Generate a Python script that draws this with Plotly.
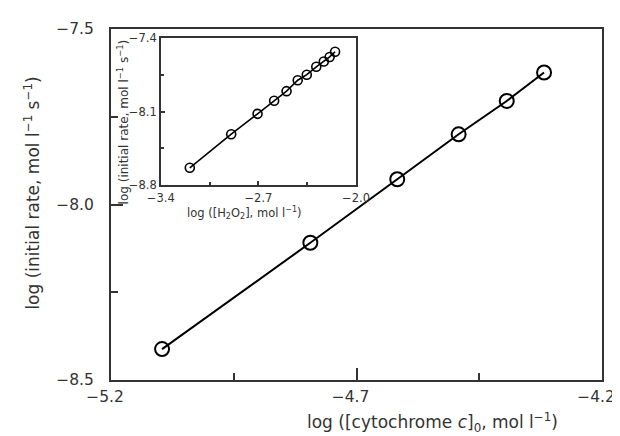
import plotly.graph_objects as go

# Main plot data
cyt_log = [-5.096, -4.794, -4.617, -4.492, -4.394, -4.318]
rate_main = [-8.412, -8.109, -7.928, -7.800, -7.705, -7.624]

# Inset data
h2o2_log = [-3.192, -2.895, -2.706, -2.587, -2.498, -2.418, -2.353, -2.285, -2.231, -2.189, -2.150]
rate_inset = [-8.635, -8.315, -8.121, -7.996, -7.905, -7.801, -7.748, -7.673, -7.623, -7.579, -7.529]

main_xticks = [-5.2, -4.7, -4.2]
main_yticks = [-7.5, -8.0, -8.5]
inset_xticks = [-3.4, -2.7, -2.0]
inset_yticks = [-7.4, -8.1, -8.8]

FONT = "DejaVu Sans, Verdana, sans-serif"
TXT = "#333333"
FRAME = "#333333"

fig = go.Figure()
fig.add_trace(go.Scatter(
    x=cyt_log, y=rate_main, mode="lines+markers",
    line=dict(color="black", width=2),
    marker=dict(symbol="circle-open", size=14, color="black", line=dict(width=2)),
    xaxis="x", yaxis="y", showlegend=False))
fig.add_trace(go.Scatter(
    x=h2o2_log, y=rate_inset, mode="lines+markers",
    line=dict(color="black", width=1.6),
    marker=dict(symbol="circle-open", size=9, color="black", line=dict(width=1.6)),
    xaxis="x2", yaxis="y2", showlegend=False))

W, H = 620, 436
L, R, T, B = 103, 14, 16, 64
pw = W - L - R
ph = H - T - B

def px(x):
    return (x - L) / pw

def py(y):
    return (H - B - y) / ph

def f(size):
    return dict(size=size, family=FONT, color=TXT)

fig.update_layout(
    width=W, height=H, autosize=False,
    margin=dict(l=L, r=R, t=T, b=B),
    paper_bgcolor="white", plot_bgcolor="white",
    font=f(15.5),
    xaxis=dict(range=[-5.2, -4.2], tickvals=main_xticks, tickformat=".1f",
               showline=True, mirror=True, linecolor=FRAME, linewidth=2,
               ticks="inside", ticklen=12, tickwidth=2, tickcolor=FRAME,
               minor=dict(tickvals=[-4.95, -4.45], ticks="inside", ticklen=7, tickwidth=2, tickcolor=FRAME),
               showgrid=False, zeroline=False, tickfont=f(15.5),
               ticklabelstandoff=1, ticklabelshift=-6),
    yaxis=dict(range=[-8.5, -7.5], tickvals=main_yticks, tickformat=".1f",
               showline=True, mirror=True, linecolor=FRAME, linewidth=2,
               ticks="inside", ticklen=12, tickwidth=2, tickcolor=FRAME,
               minor=dict(tickvals=[-7.75, -8.25], ticks="inside", ticklen=7, tickwidth=2, tickcolor=FRAME),
               showgrid=False, zeroline=False, tickfont=f(15.5),
               ticklabelstandoff=12),
    xaxis2=dict(domain=[px(154), px(354)], anchor="y2", range=[-3.4, -2.0],
                tickvals=inset_xticks, tickformat=".1f",
                showline=True, mirror=True, linecolor=FRAME, linewidth=1.5,
                ticks="inside", ticklen=4, tickwidth=1.5, tickcolor=FRAME,
                minor=dict(tickvals=[-3.05, -2.35], ticks="inside", ticklen=3, tickwidth=1.5, tickcolor=FRAME),
                showgrid=False, zeroline=False, tickfont=f(11.5),
                ticklabelstandoff=1),
    yaxis2=dict(domain=[py(174.3), py(25.3)], anchor="x2", range=[-8.8, -7.4],
                tickvals=inset_yticks, tickformat=".1f",
                showline=True, mirror=True, linecolor=FRAME, linewidth=1.5,
                ticks="inside", ticklen=4, tickwidth=1.5, tickcolor=FRAME,
                minor=dict(tickvals=[-7.75, -8.45], ticks="inside", ticklen=3, tickwidth=1.5, tickcolor=FRAME),
                showgrid=False, zeroline=False, tickfont=f(11.5),
                ticklabelstandoff=0),
    annotations=[
        dict(text="log ([cytochrome <i>c</i>]<sub>0</sub>, mol l<sup>−1</sup>)",
             xref="paper", yref="paper", x=px(432), y=py(415),
             xanchor="center", yanchor="middle", showarrow=False,
             font=f(17)),
        dict(text="log (initial rate, mol l<sup>−1</sup> s<sup>−1</sup>)",
             xref="paper", yref="paper", x=px(22), y=py(182), textangle=-90,
             xanchor="center", yanchor="middle", showarrow=False,
             font=f(17)),
        dict(text="log ([H<sub>2</sub>O<sub>2</sub>], mol l<sup>−1</sup>)",
             xref="paper", yref="paper", x=px(240), y=py(203),
             xanchor="center", yanchor="middle", showarrow=False,
             font=f(11.5)),
        dict(text="log (initial rate, mol l<sup>−1</sup> s<sup>−1</sup>)",
             xref="paper", yref="paper", x=px(115), y=py(110), textangle=-90,
             xanchor="center", yanchor="middle", showarrow=False,
             font=f(12)),
    ],
)

fig.write_html("out.html")
